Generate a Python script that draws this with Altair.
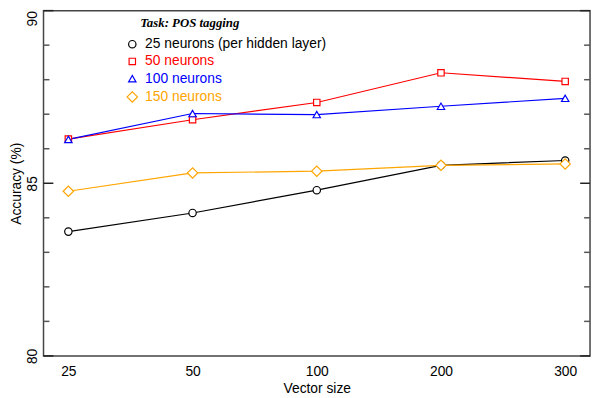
import altair as alt
import pandas as pd

# ---- data ----
vector_sizes = ["25", "50", "100", "200", "300"]
series_names = ["25 neurons (per hidden layer)", "50 neurons", "100 neurons", "150 neurons"]
acc_25 = [83.60, 84.14, 84.80, 85.52, 85.66]
acc_50 = [86.28, 86.84, 87.34, 88.20, 87.95]
acc_100 = [86.27, 87.02, 86.99, 87.23, 87.46]
acc_150 = [84.77, 85.30, 85.35, 85.52, 85.56]
series_values = [acc_25, acc_50, acc_100, acc_150]

series_colors = ["#000000", "#FF0000", "#0000FF", "#FFA500"]
series_shapes = ["circle", "square", "triangle-up", "diamond"]
series_sizes = [56, 42, 56, 110]

major_ticks = [80, 85, 90]
minor_ticks = [81, 82, 83, 84, 86, 87, 88, 89]

rows = []
for name, vals, msize in zip(series_names, series_values, series_sizes):
    for i, (v, a) in enumerate(zip(vector_sizes, vals)):
        rows.append({"series": name, "vector": v, "idx": i, "acc": a, "msize": msize})
df = pd.DataFrame(rows)

FONT = "Liberation Sans"
W, H = 554, 350

y_scale = alt.Scale(domain=[80, 90], nice=False, zero=False)
y_axis = alt.Axis(
    title="Accuracy (%)", values=major_ticks, ticks=False, domain=False, grid=False,
    labelAngle=270, labelBaseline="alphabetic", labelPadding=7,
    labelAlign={"expr": "datum.value >= 90 ? 'right' : 'center'"},
    labelFontSize=14, labelFont=FONT, labelColor="black",
    titleFontSize=14, titleFont=FONT, titleFontWeight="normal", titleColor="black",
    titleX=-27, titleY=175, titleBaseline="middle", titleAlign="center",
)
x_enc = alt.X(
    "vector:N",
    sort=vector_sizes,
    scale=alt.Scale(type="point", padding=0.2),
    axis=alt.Axis(
        title="Vector size", labelAngle=0, ticks=False, domain=False,
        labelPadding=9, labelFontSize=14, labelFont=FONT, labelColor="black",
        titleFontSize=14, titleFont=FONT, titleFontWeight="normal", titleColor="black",
        titleY=37, titleBaseline="alphabetic",
    ),
)
y_enc = alt.Y("acc:Q", scale=y_scale, axis=y_axis)

legend = alt.Legend(
    title="Task: POS tagging",
    orient="none", legendX=98, legendY=7,
    titleFont="Liberation Serif", titleFontStyle="italic", titleFontWeight="bold",
    titleFontSize=13, titleColor="black", titlePadding=7, titleAnchor="start", titleAlign="left",
    labelFont=FONT, labelFontSize=14, labelLimit=0,
    labelOffset=6, symbolOffset=-15,
    labelColor={"expr": "scale('stroke', datum.value)"},
    symbolSize={"expr": "datum.value == '150 neurons' ? 110 : (datum.value == '50 neurons' ? 42 : 56)"},
    rowPadding=3.5, padding=0, symbolStrokeWidth=1.2,
)

stroke_enc = alt.Stroke("series:N", scale=alt.Scale(domain=series_names, range=series_colors), legend=legend)
shape_enc = alt.Shape("series:N", scale=alt.Scale(domain=series_names, range=series_shapes), legend=legend)
size_enc = alt.Size("msize:Q", scale=None)

base = alt.Chart(df)
lines = base.mark_line(strokeWidth=1.2).encode(
    x=x_enc, y=y_enc, stroke=stroke_enc, order=alt.Order("idx:Q"), detail="series:N"
)
points = base.mark_point(filled=True, fill="white", strokeWidth=1.2, opacity=1).encode(
    x=x_enc, y=y_enc, stroke=stroke_enc, shape=shape_enc, size=size_enc
)

def tick_layer(vals, x0, x1, color):
    return alt.Chart(pd.DataFrame({"acc": vals})).mark_rule(color=color, strokeWidth=1.5).encode(
        y=y_enc, x=alt.value(x0), x2=alt.value(x1)
    )

ticks = [
    tick_layer(major_ticks, 0, 10, "#222222"),
    tick_layer(minor_ticks, 0, 6, "#555555"),
    tick_layer(major_ticks, W, W - 10, "#222222"),
    tick_layer(minor_ticks, W, W - 6, "#555555"),
]

chart = alt.layer(lines, points, *ticks).properties(
    width=W, height=H,
    autosize=alt.AutoSizeParams(type="none"),
    padding={"left": 36, "top": 0, "right": 2, "bottom": 40},
).configure(font=FONT).configure_view(stroke="#444444", strokeWidth=1.5)

chart.save("out.html", embed_options={"renderer": "svg", "actions": False})
